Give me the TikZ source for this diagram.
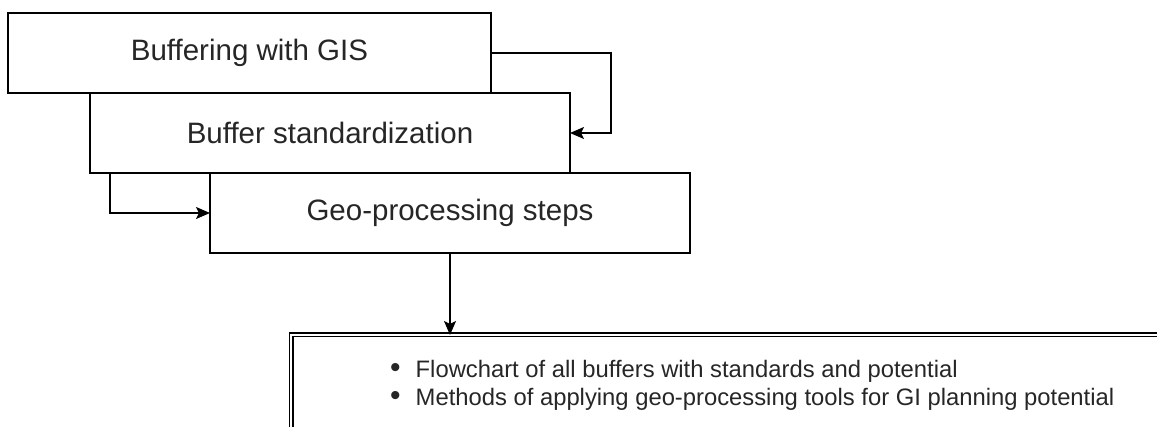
\documentclass[tikz,border=0pt]{standalone}
\usepackage{fontspec}
\setmainfont{Liberation Sans}
\usetikzlibrary{arrows.meta}

\tikzset{
  stepbox/.style={draw=black,line width=1.4pt,fill=white,inner sep=0pt,outer sep=0pt,
    minimum width=480pt,minimum height=80pt,text=black!85,
    font=\fontsize{29.5}{35}\selectfont},
  listbox/.style={draw=black,line width=1.3pt,double=white,double distance=2.4pt,
    inner sep=0pt,outer sep=0pt,minimum width=1000pt,minimum height=200pt},
  flow/.style={-{Stealth[length=14pt,width=12pt,inset=3pt]},line width=1.4pt}
}
\newcommand{\dotitem}{{\fontsize{30}{28}\selectfont\textbullet}\hspace{15pt}}

\begin{document}
\begin{tikzpicture}[x=1pt,y=-1pt]
    \useasboundingbox (0,0) rectangle (1157,427);
    \clip (0,0) rectangle (1157,427);

    % Steps
    \node[stepbox,minimum width=483pt] (gis) at (249.5,53) {Buffering with GIS};
    \node[stepbox] (std) at (330,133) {Buffer standardization};
    \node[stepbox] (geo) at (450,213) {Geo-processing steps};

    % Result
    \node[listbox,anchor=north west] (result) at (291,335) {};
    \node[anchor=north west,inner sep=0pt,align=left,text=black!85,
      font=\fontsize{23.8}{28}\selectfont] (items) at (390,360)
      {\dotitem Flowchart of all buffers with standards and potential\\
       \dotitem Methods of applying geo-processing tools for GI planning potential};

    % Connectors
    \draw[flow] (gis.east) -- ++(120,0) |- (std.east);
    \draw[flow] ([xshift=20pt]std.south west) |- (geo.west);
    \draw[flow] (geo.south) -- (geo.south |- result.north);
\end{tikzpicture}
\end{document}
